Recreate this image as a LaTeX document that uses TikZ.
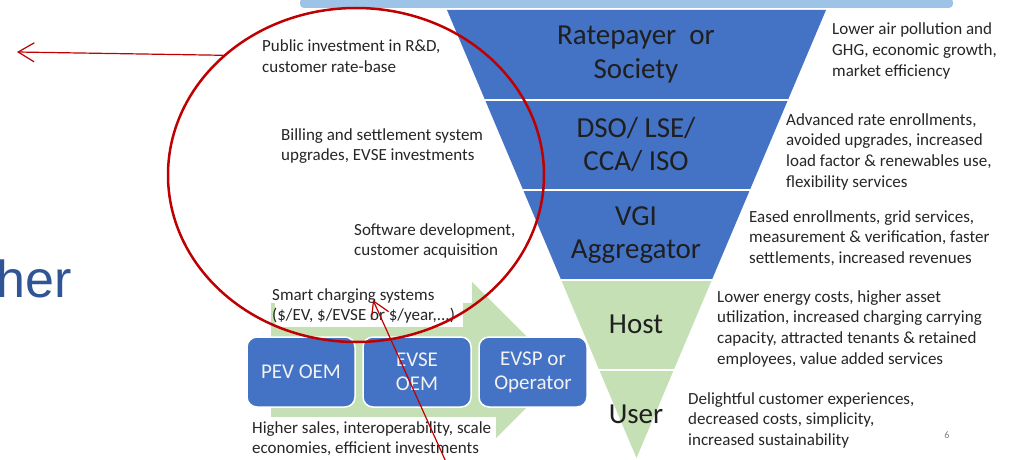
\documentclass[tikz,border=0pt]{standalone}
\usepackage{fontspec}
\setmainfont{Carlito}
\newfontfamily\herfont{Liberation Sans}
\usetikzlibrary{arrows.meta,shapes.geometric}
\definecolor{pblue}{HTML}{4472C4}
\definecolor{pgreen}{HTML}{C5E0B4}
\definecolor{barblue}{HTML}{9DC3E6}
\definecolor{redc}{HTML}{C00000}
\definecolor{txtc}{HTML}{262626}
\definecolor{bandtxt}{HTML}{1F1F1F}
\definecolor{hercol}{HTML}{2F5597}
\definecolor{boxtxt}{HTML}{F2F2F2}
\newcommand\mlines[1]{\begin{tabular}[t]{@{}l@{}}#1\end{tabular}}
\newcommand\clines[1]{\begin{tabular}[t]{@{}c@{}}#1\end{tabular}}
\tikzset{
  smalltxt/.style={anchor=base west, inner sep=0pt, font=\fontsize{17}{20.7}\selectfont, text=txtc},
  bandlbl/.style={anchor=base, inner sep=0pt, font=\fontsize{29}{33.5}\selectfont, text=bandtxt},
  actor/.style={draw=white, line width=1.5pt, fill=pblue, rounded corners=10pt,
    minimum width=108pt, minimum height=70pt, inner sep=0pt, align=center,
    text=boxtxt, font=\fontsize{21}{24}\selectfont},
  divider/.style={draw=white, line width=2pt},
  redarrow/.style={draw=redc, line width=1.2pt, -{Straight Barb[length=16pt,width=19pt,line width=1.2pt]}},
  whitebg/.style={fill=white, draw=none}
}
\begin{document}
\begin{tikzpicture}[x=1pt,y=-1pt]
\useasboundingbox[fill=white] (0,0) rectangle (1015,460);
% top bar
\fill[barblue, rounded corners=4pt] (300,-2) rectangle (953,8);
% funnel
\fill[pblue] (447,10) -- (826,10) -- (711.8,280) -- (561.2,280) -- cycle;
\fill[pgreen] (561.2,280) -- (711.8,280) -- (636.5,458) -- cycle;
\draw[divider] (485.1,100) -- (787.9,100);
\draw[divider] (523.1,190) -- (749.9,190);
\draw[divider] (561.2,280) -- (711.8,280);
\draw[divider] (599.3,370) -- (673.7,370);
% green arrow
\fill[pgreen] (271,303) -- (472,303) -- (472,282) -- (562,372) -- (472,462) -- (472,441) -- (271,441) -- cycle;
\fill[whitebg] (275,280) rectangle (463,327);
\fill[whitebg] (248,417) rectangle (496,462);
% band labels
\node[bandlbl] (rate) at (636,45) {\clines{Ratepayer\ \ or\\Society}};
\node[bandlbl] (dso) at (636,137) {\clines{DSO/ LSE/\\CCA/ ISO}};
\node[bandlbl] (vgi) at (636,225) {\clines{VGI\\Aggregator}};
\node[bandlbl] (host) at (636,333) {Host};
\node[bandlbl] (user) at (636,423) {User};
% left texts
\node[smalltxt] (t1) at (262,52) {\mlines{Public investment in R\&D,\\customer rate-base}};
\node[smalltxt] (t2) at (281,140) {\mlines{Billing and settlement system\\upgrades, EVSE investments}};
\node[smalltxt] (t3) at (354,235) {\mlines{Software development,\\customer acquisition}};
\node[smalltxt] (t4) at (272,300) {\mlines{Smart charging systems\\(\$/EV, \$/EVSE or \$/year,...)}};
\node[smalltxt] (t5) at (252,433) {\mlines{Higher sales, interoperability, scale\\economies, efficient investments}};
% right texts
\node[smalltxt] (r1) at (832,35) {\mlines{Lower air pollution and\\GHG, economic growth,\\market efficiency}};
\node[smalltxt] (r2) at (786,125) {\mlines{Advanced rate enrollments,\\avoided upgrades, increased\\load factor \& renewables use,\\flexibility services}};
\node[smalltxt] (r3) at (749,222) {\mlines{Eased enrollments, grid services,\\measurement \& verification, faster\\settlements, increased revenues}};
\node[smalltxt] (r4) at (717,302) {\mlines{Lower energy costs, higher asset\\utilization, increased charging carrying\\capacity, attracted tenants \& retained\\employees, value added services}};
\node[smalltxt] (r5) at (688,404) {\mlines{Delightful customer experiences,\\decreased costs, simplicity,\\increased sustainability}};
% actor boxes
\node[actor] (pev) at (301,372) {PEV OEM};
\node[actor] (evse) at (417,372) {EVSE\\OEM};
\node[actor] (evsp) at (533,372) {EVSP or\\Operator};
% page number
\node[anchor=base, inner sep=0pt, font=\fontsize{10}{12}\selectfont, text=gray] (pg) at (947,438) {6};
% partial title
\node[anchor=base west, inner sep=0pt, font=\herfont\fontsize{52}{60}\selectfont, text=hercol] (her) at (-3.5,297) {her};
% red annotations
\node[draw=redc, line width=2.5pt, ellipse, minimum width=376pt, minimum height=334pt, inner sep=0pt] (circ) at (356,175) {};
\coordinate (tip1) at (17,52);
\coordinate (tip2) at (373,300);
\coordinate (tail2) at (446,462);
\draw[redarrow] (circ.138.6) -- (tip1);
\draw[redarrow] (tail2) -- (tip2);
\end{tikzpicture}
\end{document}
